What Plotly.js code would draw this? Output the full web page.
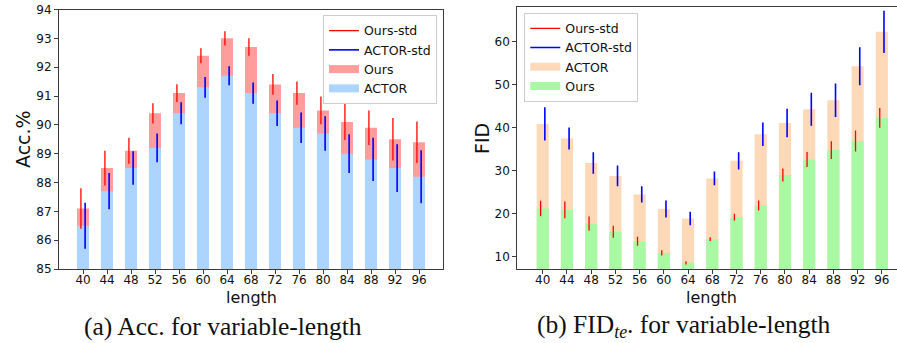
<!DOCTYPE html>
<html>
<head>
<meta charset="utf-8">
<script src="https://cdn.plot.ly/plotly-3.0.1.min.js"></script>
<style>html,body{margin:0;padding:0;background:#fff;}#chart{width:897px;height:343px;}</style>
</head>
<body>
<div id="chart"></div>
<script>
// ---- data ----
const lengths = [40, 44, 48, 52, 56, 60, 64, 68, 72, 76, 80, 84, 88, 92, 96];

const accOurs     = [87.1, 88.5, 89.1, 90.4, 91.1, 92.4, 93.0, 92.7, 91.4, 91.1, 90.5, 90.1, 89.9, 89.5, 89.4];
const accOursStd  = [0.70, 0.60, 0.45, 0.35, 0.31, 0.26, 0.25, 0.30, 0.36, 0.40, 0.48, 0.63, 0.60, 0.74, 0.72];
const accActor    = [86.5, 87.7, 88.5, 89.2, 90.4, 91.3, 91.7, 91.1, 90.4, 89.9, 89.7, 89.0, 88.8, 88.5, 88.2];
const accActorStd = [0.80, 0.63, 0.58, 0.50, 0.38, 0.36, 0.33, 0.37, 0.44, 0.53, 0.60, 0.67, 0.75, 0.83, 0.92];

const fidActor    = [40.8, 37.4, 31.7, 28.7, 24.4, 21.0, 18.8, 28.1, 32.2, 38.4, 41.0, 44.2, 46.3, 54.2, 62.2];
const fidActorStd = [3.85, 2.56, 2.50, 2.40, 1.90, 1.97, 1.56, 1.60, 2.00, 2.72, 3.33, 3.84, 3.90, 4.40, 4.90];
const fidOurs     = [21.1, 20.8, 17.6, 15.7, 13.5, 10.8, 8.5, 14.0, 19.1, 21.8, 28.9, 32.5, 34.7, 36.8, 42.2];
const fidOursStd  = [1.80, 1.95, 1.67, 1.40, 1.05, 0.60, 0.38, 0.46, 0.78, 1.16, 1.50, 1.74, 2.06, 2.44, 2.30];

const accTicks = [85, 86, 87, 88, 89, 90, 91, 92, 93, 94];
const fidTicks = [10, 20, 30, 40, 50, 60];

// ---- style ----
const FONT = 'DejaVu Sans';
const C_RED_BAR = '#ff9c9c', C_BLUE_BAR = '#acd4fc';
const C_PEACH = '#fed9b8', C_GREEN = '#a9f8a3';
const C_RED = '#ff0000', C_BLUE = '#0000ff';
const BAR_W = 2, OFF = 0.35;

function segs(xs, ys, sd, off) {
  const x = [], y = [];
  xs.forEach((v, i) => { x.push(v + off, v + off, null); y.push(ys[i] - sd[i], ys[i] + sd[i], null); });
  return {x, y};
}
function bar(y, color, xa, ya) {
  return {type: 'bar', x: lengths, y: y, width: BAR_W, marker: {color: color, line: {width: 0}},
          xaxis: xa, yaxis: ya, showlegend: false, hoverinfo: 'skip'};
}
function err(s, color, w, xa, ya, name, leg, rank) {
  return {type: 'scatter', mode: 'lines', x: s.x, y: s.y, line: {color: color, width: w},
          xaxis: xa, yaxis: ya, name: name, legend: leg, legendrank: rank, connectgaps: false};
}
function patch(color, name, leg, rank, xa, ya) {
  return {type: 'scatter', mode: 'lines', x: [null], y: [null], line: {color: color, width: 8},
          name: name, legend: leg, legendrank: rank, xaxis: xa, yaxis: ya};
}

const traces = [
  bar(accOurs, C_RED_BAR, 'x', 'y'),
  bar(accActor, C_BLUE_BAR, 'x', 'y'),
  err(segs(lengths, accOurs, accOursStd, -OFF), C_RED, 1.3, 'x', 'y', 'Ours-std', 'legend', 1),
  err(segs(lengths, accActor, accActorStd, OFF), C_BLUE, 1.6, 'x', 'y', 'ACTOR-std', 'legend', 2),
  patch(C_RED_BAR, 'Ours', 'legend', 3, 'x', 'y'),
  patch(C_BLUE_BAR, 'ACTOR', 'legend', 4, 'x', 'y'),

  bar(fidActor, C_PEACH, 'x2', 'y2'),
  bar(fidOurs, C_GREEN, 'x2', 'y2'),
  err(segs(lengths, fidOurs, fidOursStd, -OFF), C_RED, 1.3, 'x2', 'y2', 'Ours-std', 'legend2', 1),
  err(segs(lengths, fidActor, fidActorStd, OFF), C_BLUE, 1.6, 'x2', 'y2', 'ACTOR-std', 'legend2', 2),
  patch(C_PEACH, 'ACTOR', 'legend2', 3, 'x2', 'y2'),
  patch(C_GREEN, 'Ours', 'legend2', 4, 'x2', 'y2')
];

const axBase = {showgrid: false, zeroline: false, showline: true, linecolor: '#3a3a3a', linewidth: 1,
  ticks: 'outside', ticklen: 4, tickwidth: 1, tickcolor: '#3a3a3a',
  tickfont: {family: FONT, size: 12, color: '#111'}, fixedrange: true};

const legBase = {font: {family: FONT, size: 12.5, color: '#111'}, bgcolor: 'rgba(255,255,255,0.85)',
  bordercolor: '#cccccc', borderwidth: 1, traceorder: 'normal', itemwidth: 30, tracegroupgap: 0};

const yBot = 0.2157;
const layout = {
  width: 897, height: 343, margin: {l: 0, r: 0, t: 0, b: 0},
  paper_bgcolor: '#fff', plot_bgcolor: '#fff', barmode: 'overlay',
  font: {family: FONT},
  xaxis: Object.assign({}, axBase, {domain: [0.0658, 0.4939], range: [36, 100], tickvals: lengths, mirror: true, anchor: 'y', ticklabelstandoff: -4}),
  yaxis: Object.assign({}, axBase, {domain: [yBot, 0.9723], range: [85, 94], tickvals: accTicks, mirror: true, anchor: 'x'}),
  xaxis2: Object.assign({}, axBase, {domain: [0.5767, 1.0], range: [35.8, 98.5], tickvals: lengths, mirror: true, anchor: 'y2', ticklabelstandoff: -4}),
  yaxis2: Object.assign({}, axBase, {domain: [yBot, 0.9805], range: [7.05, 68.05], tickvals: fidTicks, mirror: false, anchor: 'x2'}),
  legend: Object.assign({}, legBase, {x: 0.4872, y: 0.9563, xanchor: 'right', yanchor: 'top'}),
  legend2: Object.assign({}, legBase, {x: 0.5845, y: 0.963, xanchor: 'left', yanchor: 'top'}),
  annotations: [
    {text: 'length', xref: 'paper', yref: 'paper', x: 251 / 897, y: 1 - 297 / 343, showarrow: false,
     xanchor: 'center', yanchor: 'middle', font: {family: FONT, size: 16, color: '#111'}},
    {text: 'length', xref: 'paper', yref: 'paper', x: 711 / 897, y: 1 - 297 / 343, showarrow: false,
     xanchor: 'center', yanchor: 'middle', font: {family: FONT, size: 16, color: '#111'}},
    {text: 'Acc.%', xref: 'paper', yref: 'paper', x: 23 / 897, y: 1 - 139 / 343, showarrow: false, textangle: -90,
     xanchor: 'center', yanchor: 'middle', font: {family: FONT, size: 19, color: '#111'}},
    {text: 'FID', xref: 'paper', yref: 'paper', x: 482 / 897, y: 1 - 139 / 343, showarrow: false, textangle: -90,
     xanchor: 'center', yanchor: 'middle', font: {family: FONT, size: 19, color: '#111'}},
    {text: '(a) Acc. for variable-length', xref: 'paper', yref: 'paper', x: 223 / 897, y: 1 - 326 / 343, showarrow: false,
     xanchor: 'center', yanchor: 'middle', font: {family: 'Liberation Serif', size: 25.5, color: '#111'}},
    {text: '(b) FID<sub><i>te</i></sub>. for variable-length', xref: 'paper', yref: 'paper', x: 684 / 897, y: 1 - 326 / 343, showarrow: false,
     xanchor: 'center', yanchor: 'middle', font: {family: 'Liberation Serif', size: 25.5, color: '#111'}}
  ]
};

Plotly.newPlot('chart', traces, layout, {staticPlot: true, displayModeBar: false});
</script>
</body>
</html>
